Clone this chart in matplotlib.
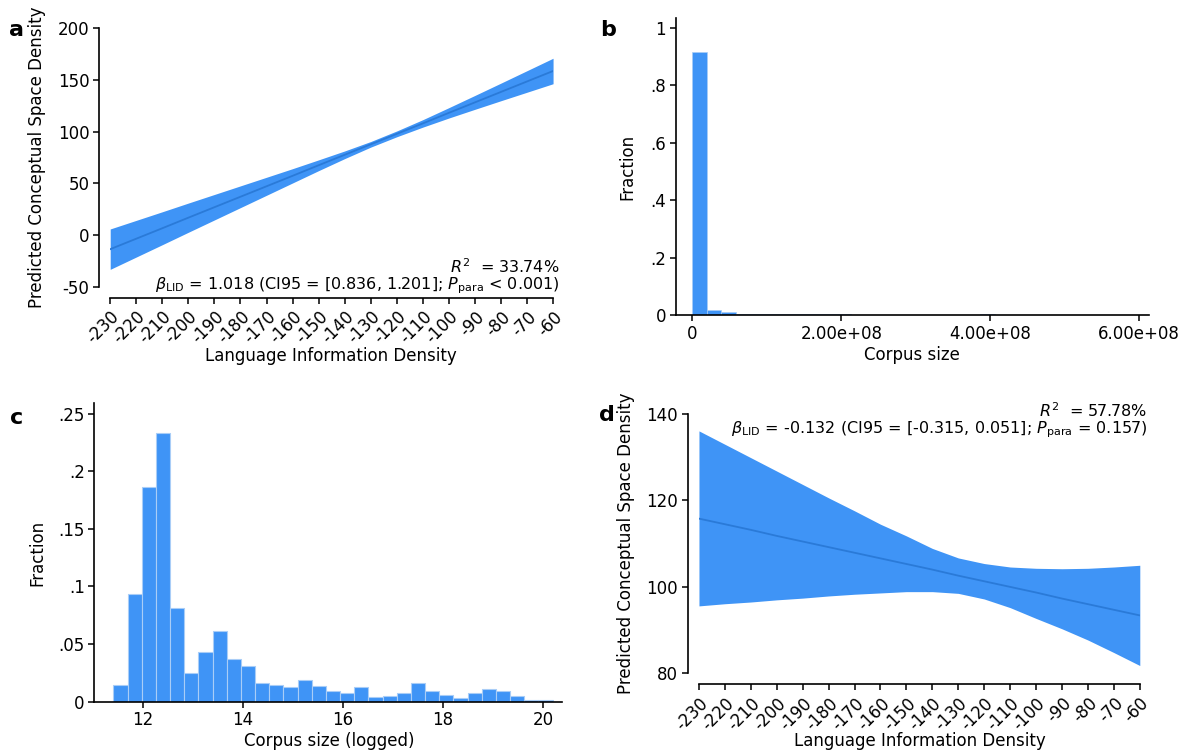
import numpy as np
import matplotlib
matplotlib.use("Agg")
import matplotlib.pyplot as plt

plt.rcParams['font.family'] = ['DejaVu Sans']
plt.rcParams['mathtext.fontset'] = 'dejavusans'
plt.rcParams['font.size'] = 12
plt.rcParams['axes.unicode_minus'] = False

# panel a: predicted density vs LID (fit + CI band)
lid_x = [-230, -220, -210, -200, -190, -180, -170, -160, -150, -140,
         -130, -120, -110, -100, -90, -80, -70, -60]
a_fit = [-13.5, -3.4, 6.7, 16.9, 27.0, 37.1, 47.2, 57.3, 67.5, 77.6,
         87.7, 97.8, 107.9, 118.1, 128.2, 138.3, 148.4, 158.5]
a_upper = [6.0, 14.3, 22.6, 31.0, 39.3, 47.6, 55.9, 64.2, 72.7, 81.3,
           90.4, 100.6, 111.5, 123.1, 134.9, 146.8, 158.8, 170.8]
a_lower = [-33.0, -21.1, -9.2, 2.8, 14.7, 26.6, 38.5, 50.4, 62.3, 73.9,
           85.0, 95.0, 104.3, 113.1, 121.5, 129.8, 138.0, 146.2]

# panel b: histogram of corpus size
b_width = 1.933e7
b_frac = [0.915, 0.018, 0.0126, 0.004, 0.004, 0.004, 0.003, 0.003, 0.003, 0.003,
          0.003, 0.002, 0.002, 0.002, 0.002, 0.002, 0.002, 0.002, 0.0, 0.0,
          0.003, 0.0, 0.0, 0.0, 0.0, 0.0, 0.0, 0.0, 0.0, 0.002]

# panel c: histogram of logged corpus size
c_start = 11.42
c_width = 0.283
c_frac = [0.0148, 0.0936, 0.186, 0.2335, 0.0814, 0.0252, 0.0429, 0.0614, 0.037, 0.0307,
          0.0165, 0.0145, 0.013, 0.0185, 0.0139, 0.0096, 0.0078, 0.0125, 0.0043, 0.0052,
          0.0078, 0.016, 0.0096, 0.0058, 0.0035, 0.0078, 0.011, 0.0096, 0.0052, 0.0014,
          0.0014]

# panel d
d_fit = [115.8, 114.5, 113.2, 111.8, 110.5, 109.2, 107.9, 106.6, 105.3, 104.0,
         102.6, 101.3, 100.0, 98.7, 97.3, 96.0, 94.7, 93.4]
d_upper = [136.1, 133.0, 129.9, 126.8, 123.7, 120.6, 117.6, 114.5, 111.8, 108.9,
           106.7, 105.4, 104.6, 104.3, 104.2, 104.3, 104.6, 105.0]
d_lower = [95.6, 96.1, 96.5, 97.0, 97.4, 97.9, 98.3, 98.6, 98.9, 98.9,
           98.5, 97.2, 95.2, 92.7, 90.3, 87.7, 84.8, 81.8]

fill_col = '#3f94f6'
line_col = '#2a7ad8'
edge_col = '#a9cdf7'

fig = plt.figure(figsize=(11.94, 7.55), dpi=100)
ax_a = fig.add_axes([0.0923, 0.6199, 0.3709, 0.3430])
ax_b = fig.add_axes([0.566, 0.5824, 0.3963, 0.3934])
ax_c = fig.add_axes([0.0791, 0.0706, 0.3920, 0.3952])
ax_d = fig.add_axes([0.5854, 0.1082, 0.3692, 0.3434])

for ax in (ax_a, ax_b, ax_c, ax_d):
    ax.spines['top'].set_visible(False)
    ax.spines['right'].set_visible(False)
    ax.spines['left'].set_linewidth(1.2)
    ax.spines['bottom'].set_linewidth(1.2)
    ax.tick_params(direction='out', length=4, width=1.1, pad=3, labelsize=12)


def reg_panel(ax, fit, up, lo, ylim, yticks):
    ax.fill_between(lid_x, lo, up, color=fill_col, lw=0)
    ax.plot(lid_x, fit, color=line_col, lw=1.3)
    ax.set_xlim(-230, -60)
    ax.set_ylim(*ylim)
    ax.set_yticks(yticks)
    ax.set_xticks(range(-230, -59, 10))
    ax.spines['left'].set_position(('outward', 8))
    ax.spines['bottom'].set_position(('outward', 8))
    for lab in ax.get_xticklabels():
        lab.set_rotation(45)
        lab.set_ha('right')
        lab.set_va('top')
        lab.set_rotation_mode('anchor')
    ax.set_xlabel('Language Information Density')
    ax.set_ylabel('Predicted Conceptual Space Density')


reg_panel(ax_a, a_fit, a_upper, a_lower, (-50, 200), range(-50, 201, 50))
ax_a.text(1.015, 0.078, r'$R^{2}$  = 33.74%', transform=ax_a.transAxes,
          ha='right', va='center', fontsize=11.5)
ax_a.text(1.015, 0.004,
          r'$\beta_{\rm LID}$ = 1.018 (CI95 = [0.836, 1.201]; $P_{\rm para}$ < 0.001)',
          transform=ax_a.transAxes, ha='right', va='center', fontsize=11.5)
ax_a.xaxis.set_label_coords(0.499, -0.266)
ax_a.yaxis.set_label_coords(-0.165, 0.5)

reg_panel(ax_d, d_fit, d_upper, d_lower, (80, 140), range(80, 141, 20))
ax_d.text(1.017, 1.014, r'$R^{2}$  = 57.78%', transform=ax_d.transAxes,
          ha='right', va='center', fontsize=11.5)
ax_d.text(1.017, 0.940,
          r'$\beta_{\rm LID}$ = -0.132 (CI95 = [-0.315, 0.051]; $P_{\rm para}$ = 0.157)',
          transform=ax_d.transAxes, ha='right', va='center', fontsize=11.5)
ax_d.xaxis.set_label_coords(0.5, -0.26)
ax_d.yaxis.set_label_coords(-0.166, 0.5)

# panel b
b_left = np.arange(len(b_frac)) * b_width
ax_b.bar(b_left, b_frac, width=b_width, align='edge', color=fill_col,
         edgecolor=edge_col, linewidth=0.5)
ax_b.set_xlim(-2.23e7, 6.13e8)
ax_b.set_ylim(0, 1.034)
ax_b.set_yticks([0, 0.2, 0.4, 0.6, 0.8, 1])
ax_b.set_yticklabels(['0', '.2', '.4', '.6', '.8', '1'])
ax_b.set_xticks([0, 2e8, 4e8, 6e8])
ax_b.set_xticklabels(['0', '2.00e+08', '4.00e+08', '6.00e+08'])
ax_b.set_xlabel('Corpus size')
ax_b.set_ylabel('Fraction')
ax_b.xaxis.set_label_coords(0.5, -0.134)
ax_b.yaxis.set_label_coords(-0.103, 0.5)

# panel c
c_left = c_start + np.arange(len(c_frac)) * c_width
ax_c.bar(c_left, c_frac, width=c_width, align='edge', color=fill_col,
         edgecolor=edge_col, linewidth=0.8)
ax_c.set_xlim(11.04, 20.39)
ax_c.set_ylim(0, 0.259)
ax_c.set_yticks([0, 0.05, 0.1, 0.15, 0.2, 0.25])
ax_c.set_yticklabels(['0', '.05', '.1', '.15', '.2', '.25'])
ax_c.set_xticks([12, 14, 16, 18, 20])
ax_c.set_xlabel('Corpus size (logged)')
ax_c.set_ylabel('Fraction')
ax_c.xaxis.set_label_coords(0.501, -0.131)
ax_c.yaxis.set_label_coords(-0.121, 0.5)

for ax in (ax_a, ax_b, ax_c, ax_d):
    ax.xaxis.label.set_va('center')
    ax.yaxis.label.set_va('center')

# panel letters
for letter, x, y in [('a', 17, 30), ('b', 608, 30), ('c', 17, 418), ('d', 607, 415)]:
    fig.text(x / 1194, 1 - y / 755, letter, fontsize=16, fontweight='bold',
             ha='center', va='center')

fig.savefig('out.png', dpi=100)
